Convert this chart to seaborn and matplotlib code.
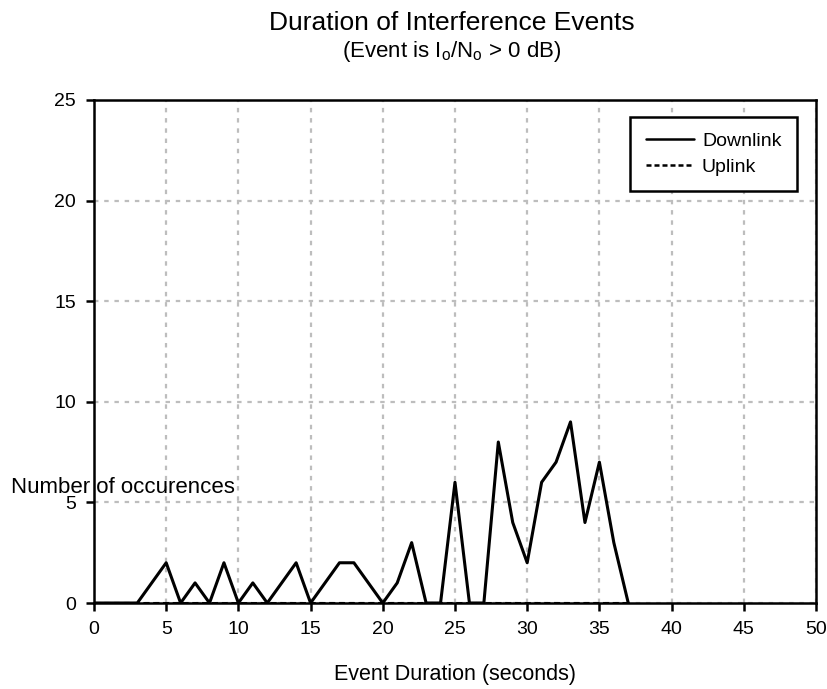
import matplotlib
matplotlib.use("Agg")
import matplotlib.pyplot as plt
from matplotlib.lines import Line2D
import seaborn as sns
import pandas as pd

# Event durations (seconds) and number of occurrences per duration
durations = [0, 1, 2, 3, 4, 5, 6, 7, 8, 9, 10, 11, 12, 13, 14, 15, 16, 17, 18,
             19, 20, 21, 22, 23, 24, 25, 26, 27, 28, 29, 30, 31, 32, 33, 34,
             35, 36, 37]
downlink = [0, 0, 0, 0, 1, 2, 0, 1, 0, 2, 0, 1, 0, 1, 2, 0, 1, 2, 2,
            1, 0, 1, 3, 0, 0, 6, 0, 0, 8, 4, 2, 6, 7, 9, 4,
            7, 3, 0]
uplink = [0, 0, 0, 0, 0, 0, 0, 0, 0, 0, 0, 0, 0, 0, 0, 0, 0, 0, 0,
          0, 0, 0, 0, 0, 0, 0, 0, 0, 0, 0, 0, 0, 0, 0, 0,
          0, 0, 0]
x_ticks = [0, 5, 10, 15, 20, 25, 30, 35, 40, 45, 50]
y_ticks = [0, 5, 10, 15, 20, 25]

sns.set_style("ticks")
plt.rcParams["font.family"] = ["Liberation Sans", "DejaVu Sans"]
plt.rcParams["mathtext.fontset"] = "custom"
plt.rcParams["mathtext.rm"] = "Liberation Sans"
plt.rcParams["mathtext.it"] = "Liberation Sans"
plt.rcParams["text.color"] = "black"
plt.rcParams["axes.labelcolor"] = "black"

df = pd.concat([
    pd.DataFrame({"Duration": durations, "Count": uplink, "Link": "Uplink"}),
    pd.DataFrame({"Duration": durations, "Count": downlink, "Link": "Downlink"}),
])

fig = plt.figure(figsize=(8.28, 6.89), dpi=100)
ax = fig.add_axes([0.1135, 0.1248, 0.8720, 0.7302])

sns.lineplot(data=df, x="Duration", y="Count", style="Link",
             style_order=["Downlink", "Uplink"],
             dashes={"Downlink": "", "Uplink": (2, 1.2)},
             color="black", linewidth=2.2, ax=ax, legend=False, zorder=3)

ax.set_xlim(0, 50)
ax.set_ylim(0, 25)
ax.set_xticks(x_ticks)
ax.set_yticks(y_ticks)
ax.tick_params(direction="out", length=6, width=1.8, labelsize=14,
               colors="black", pad=7)
for sp in ax.spines.values():
    sp.set_visible(True)
    sp.set_linewidth(1.8)
    sp.set_color("black")
    sp.set_zorder(4)

ax.grid(True, color="#bdbdbd", linestyle=(0, (2, 2.6)), linewidth=1.6)
ax.set_axisbelow(True)

ax.set_xlabel("Event Duration (seconds)", fontsize=15.5, labelpad=19)
ax.set_ylabel("")
fig.text(0.013, 0.293, "Number of occurences", fontsize=16, va="center",
         ha="left")

fig.text(0.546, 0.966, "Duration of Interference Events", fontsize=19,
         ha="center", va="center")
fig.text(0.545, 0.925, r"(Event is I$_{\mathrm{o}}$/N$_{\mathrm{o}}$ > 0 dB)",
         fontsize=16, ha="center", va="center")

handles = [Line2D([], [], color="black", linewidth=1.8),
           Line2D([], [], color="black", linewidth=1.8, linestyle=(0, (2, 1.2)))]
leg = ax.legend(handles, ["Downlink", "Uplink"], loc="upper right",
                bbox_to_anchor=(0.9737, 0.966), fontsize=14, frameon=True,
                fancybox=False, framealpha=1, edgecolor="black",
                handlelength=2.5, handletextpad=0.4, borderpad=0.8,
                labelspacing=0.4, borderaxespad=0)
leg.get_frame().set_linewidth(1.8)

fig.savefig("out.png", dpi=100)
